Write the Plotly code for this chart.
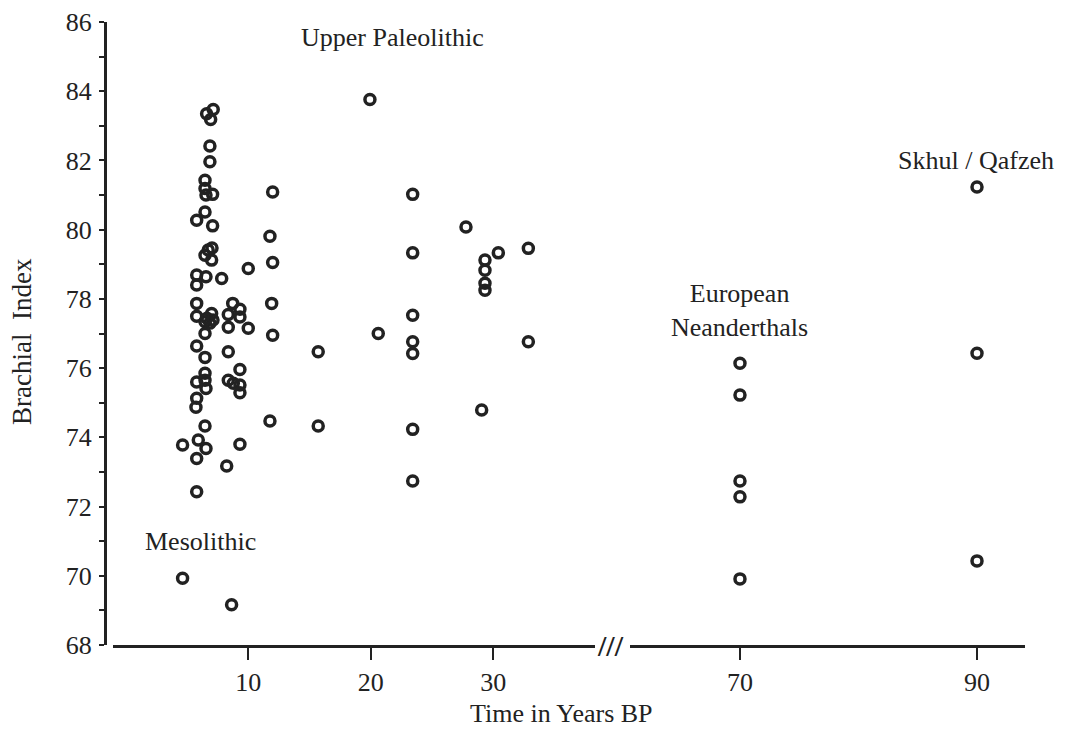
import plotly.graph_objects as go

# ---- data ----
recent_time = [6.60, 7.14, 6.93, 6.87, 6.87, 6.47, 6.47, 6.55, 7.09, 6.47, 5.79, 7.09,
               11.99, 11.77, 11.99, 10.0, 6.73, 6.47, 7.01, 7.04, 5.79, 6.55, 7.83, 5.79,
               11.91, 5.79, 8.73, 9.32, 5.79, 7.01, 8.37, 6.47, 6.87, 7.12, 6.63, 9.32,
               8.37, 10.0, 6.47, 11.99, 5.79, 6.47, 8.37, 6.47, 5.79, 6.47, 6.55, 9.32,
               8.37, 8.78, 9.32, 9.32, 5.79, 5.73, 6.47, 11.77, 5.92, 4.64, 6.55, 9.32,
               5.79, 8.24, 5.79, 4.64, 8.64,
               19.93, 23.42, 27.77, 23.42, 30.41, 32.86, 29.32, 29.32, 29.32, 29.32,
               23.42, 20.61, 23.42, 23.42, 15.71, 32.86, 29.05, 15.71, 23.42, 23.42]
recent_index = [83.35, 83.47, 83.18, 82.42, 81.96, 81.43, 81.19, 81.00, 81.02, 80.51, 80.27, 80.11,
                81.09, 79.81, 79.05, 78.88, 79.41, 79.26, 79.12, 79.47, 78.69, 78.64, 78.59, 78.40,
                77.87, 77.87, 77.87, 77.70, 77.50, 77.58, 77.55, 77.34, 77.30, 77.39, 77.44, 77.48,
                77.18, 77.15, 77.00, 76.95, 76.64, 76.31, 76.47, 75.85, 75.60, 75.65, 75.41, 75.96,
                75.65, 75.56, 75.51, 75.29, 75.13, 74.87, 74.33, 74.47, 73.92, 73.78, 73.68, 73.80,
                73.39, 73.17, 72.43, 69.93, 69.16,
                83.76, 81.02, 80.08, 79.33, 79.33, 79.46, 79.12, 78.83, 78.45, 78.25,
                77.53, 77.00, 76.76, 76.42, 76.47, 76.76, 74.79, 74.33, 74.23, 72.74]

neanderthal_time = [70, 70, 70, 70, 70]
neanderthal_index = [76.14, 75.22, 72.74, 72.28, 69.91]

skhul_time = [90, 90, 90]
skhul_index = [81.23, 76.43, 70.43]

left_ticks = [10, 20, 30]
right_ticks = [70, 90]
y_ticks = list(range(68, 87, 2))

FONT = "Liberation Serif, Times New Roman, serif"
INK = "#222222"
FS = 26

marker = dict(symbol="circle-open", size=10, color=INK, line=dict(width=3.5, color=INK))

fig = go.Figure()
fig.add_trace(go.Scatter(x=recent_time, y=recent_index, mode="markers",
                         xaxis="x", yaxis="y", marker=marker, name="Recent"))
fig.add_trace(go.Scatter(x=neanderthal_time + skhul_time,
                         y=neanderthal_index + skhul_index, mode="markers",
                         xaxis="x2", yaxis="y", marker=marker, name="Archaic"))

W = 920.0
H = 623.0
axis_common = dict(ticks="outside", ticklen=12, tickwidth=2, tickcolor=INK,
                   showline=True, linewidth=3, linecolor=INK, showgrid=False,
                   zeroline=False, anchor="y", automargin=False,
                   tickfont=dict(family=FONT, size=FS, color=INK),
                   ticklabelstandoff=0)

txt = dict(family=FONT, size=FS, color=INK)

fig.update_layout(
    width=1063, height=734,
    margin=dict(l=97, r=46, t=14, b=97, autoexpand=False),
    paper_bgcolor="white", plot_bgcolor="white",
    showlegend=False,
    font=dict(family=FONT, color=INK),
    xaxis=dict(domain=[8 / W, 490 / W], range=[-1.04, 38.3],
               tickvals=left_ticks, **axis_common),
    xaxis2=dict(domain=[525 / W, 1.0], range=[60.72, 94.05],
                tickvals=right_ticks, **axis_common),
    yaxis=dict(range=[68, 86], anchor="free", position=0, automargin=False,
               tickvals=y_ticks, ticks="outside", ticklen=5, tickwidth=2,
               tickcolor=INK, showline=True, linewidth=3, linecolor=INK,
               showgrid=False, zeroline=False,
               tickfont=dict(family=FONT, size=FS, color=INK),
               ticklabelstandoff=2,
               minor=dict(dtick=1, tick0=68, ticks="outside", ticklen=5,
                          tickwidth=2, tickcolor=INK, showgrid=False)),
    annotations=[
        dict(text="Upper Paleolithic", x=21.8, y=85.55, xref="x", yref="y",
             showarrow=False, font=txt),
        dict(text="Mesolithic", x=6.14, y=71.0, xref="x", yref="y",
             showarrow=False, font=txt),
        dict(text="European<br>Neanderthals", x=70, y=77.67, xref="x2", yref="y",
             showarrow=False, font=txt),
        dict(text="Skhul / Qafzeh", x=89.9, y=82.0, xref="x2", yref="y",
             showarrow=False, font=txt),
        dict(text="Time in Years BP", x=(561 - 105) / W, y=(645 - 713) / H,
             xref="paper", yref="paper", yanchor="middle", showarrow=False,
             font=txt),
        dict(text="Brachial&nbsp; Index", x=(22 - 105) / W, y=(645 - 342) / H,
             xref="paper", yref="paper", xanchor="center", yanchor="middle",
             textangle=-90, showarrow=False,
             font=dict(family=FONT, size=27, color=INK)),
        dict(text="<b>///</b>", x=(610 - 105) / W, y=0.0, xref="paper", yref="paper",
             yanchor="middle", showarrow=False,
             font=dict(family=FONT, size=30, color=INK)),
    ],
)

fig.write_html("out.html")
